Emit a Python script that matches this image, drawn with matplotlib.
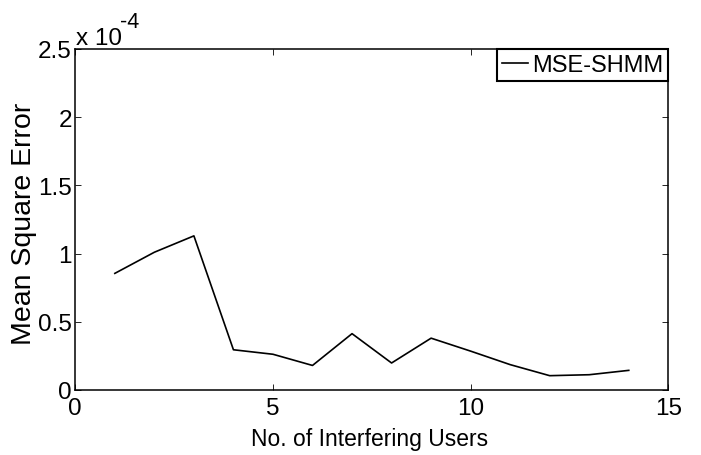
import matplotlib
matplotlib.use("Agg")
import matplotlib.pyplot as plt
from matplotlib.ticker import FixedLocator, FixedFormatter

# Data (values in units of 1e-4)
users = [1, 2, 3, 4, 5, 6, 7, 8, 9, 10, 11, 12, 13, 14]
mse_e4 = [0.855, 1.01, 1.13, 0.295, 0.262, 0.18, 0.413, 0.198, 0.38, 0.285, 0.186, 0.105, 0.112, 0.144]
scale = 1e-4
series_label = "MSE-SHMM"
x_ticks = [0, 5, 10, 15]
x_ticklabels = ["0", "5", "10", "15"]
y_ticks_e4 = [0, 0.5, 1, 1.5, 2, 2.5]
y_ticklabels = ["0", "0.5", "1", "1.5", "2", "2.5"]
xlabel = "No. of Interfering Users"
ylabel = "Mean Square Error"

plt.rcParams['font.family'] = ['Liberation Sans', 'DejaVu Sans']

fig = plt.figure(figsize=(7.01, 4.56), dpi=100)
W, H = 701, 456
ax = fig.add_axes([75.3 / W, 1 - 391 / H, (668.3 - 75.3) / W, (391 - 50) / H])

ax.plot(users, [v * scale for v in mse_e4], color='black', linewidth=1.2, label=series_label)

ax.set_xlim(0, 15)
ax.set_ylim(0, 2.5 * scale)
ax.xaxis.set_major_locator(FixedLocator(x_ticks))
ax.xaxis.set_major_formatter(FixedFormatter(x_ticklabels))
ax.yaxis.set_major_locator(FixedLocator([v * scale for v in y_ticks_e4]))
ax.yaxis.set_major_formatter(FixedFormatter(y_ticklabels))

ax.tick_params(direction='in', length=4, width=0.6, top=True, right=True,
               labelsize=17.5, colors='black')
ax.tick_params(axis='x', pad=5)
ax.tick_params(axis='y', pad=2.5)
for s in ax.spines.values():
    s.set_linewidth(1.1)
    s.set_color('black')

ax.set_xlabel(xlabel, fontsize=16.5, va='baseline')
ax.xaxis.set_label_coords(0.496, (391 - 445.7) / 341)
ax.set_ylabel(ylabel, fontsize=20.5, va='center')
ax.yaxis.set_label_coords((24 - 75.3) / 593, 0.49)

# exponent text
fig.text(76 / W, 1 - 45 / H, "x 10", fontsize=17.5, ha='left', va='baseline')
fig.text(120 / W, 1 - 28 / H, "-4", fontsize=15.5, ha='left', va='baseline')

leg = ax.legend(loc='upper right', borderaxespad=0, fontsize=17, handlelength=1.1,
                handletextpad=0.17, borderpad=0.22, fancybox=False, framealpha=1)
leg.get_frame().set_edgecolor('black')
leg.get_frame().set_linewidth(1.5)

fig.savefig("out.png", dpi=100)
